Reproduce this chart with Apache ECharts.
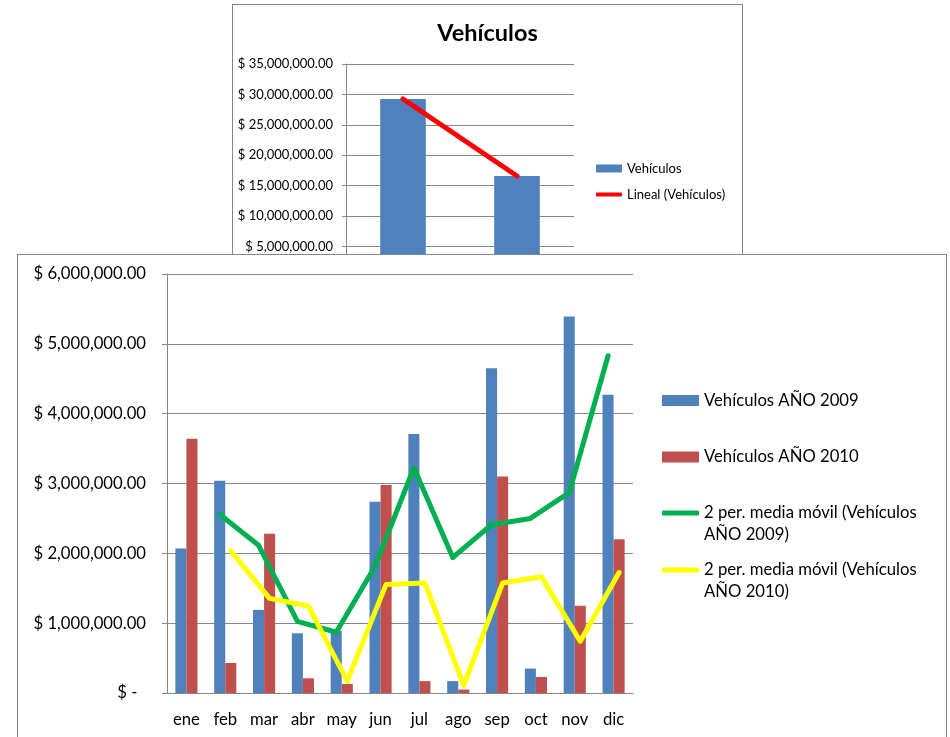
<!DOCTYPE html>
<html>
<head>
<meta charset="utf-8">
<script src="https://cdn.jsdelivr.net/npm/echarts@6/dist/echarts.min.js"></script>
<style>
  html, body { margin: 0; padding: 0; background: #fff; overflow: hidden; width: 950px; height: 737px; }
  .caja { position: absolute; box-sizing: border-box; border: 1px solid #868686; background: #fff; }
  #graficoAnual { left: 232px; top: 4px; width: 511px; height: 340px; z-index: 1; }
  #graficoMensual { left: 17px; top: 254px; width: 930px; height: 500px; z-index: 2; }
</style>
</head>
<body>
<div id="graficoAnual" class="caja"></div>
<div id="graficoMensual" class="caja"></div>
<script>
// datos
var anios = ['AÑO 2009', 'AÑO 2010'];
var totalAnual = [29250000, 16600000];
var linealAnual = [29250000, 16600000];

var meses = ['ene', 'feb', 'mar', 'abr', 'may', 'jun', 'jul', 'ago', 'sep', 'oct', 'nov', 'dic'];
var ventas2009 = [2070000, 3040000, 1190000, 855000, 890000, 2740000, 3710000, 170000, 4650000, 350000, 5390000, 4270000];
var ventas2010 = [3640000, 430000, 2280000, 210000, 130000, 2980000, 170000, 50000, 3100000, 230000, 1250000, 2200000];
var media2009 = ['-', 2555000, 2115000, 1025000, 870000, 1815000, 3225000, 1940000, 2410000, 2500000, 2870000, 4830000];
var media2010 = ['-', 2035000, 1355000, 1245000, 170000, 1555000, 1575000, 110000, 1575000, 1665000, 740000, 1725000];

var fuente = 'Lato';
var gris = '#868686';

function formatoPesos(v) {
    if (v === 0) return '$ -  ';
    return '$ ' + v.toFixed(2).replace(/\B(?=(\d{3})+(?!\d))/g, ',');
}

// grafico de arriba (total por año)
var chartAnual = echarts.init(document.getElementById('graficoAnual'), null, { renderer: 'canvas' });
var textoAnual = { fontFamily: fuente, fontSize: 13, color: '#000', lineHeight: 16 };
chartAnual.setOption({
    animation: false,
    title: {
        text: 'Vehículos',
        left: 'center',
        top: 16,
        padding: 0,
        textStyle: { fontFamily: fuente, fontWeight: 'bold', fontSize: 23.5, color: '#000' }
    },
    grid: { left: 113, top: 59, width: 228, height: 213 },
    legend: [
        { data: [{ name: 'Vehículos', icon: 'rect' }], left: 363, top: 155.5, padding: 0, itemWidth: 26, itemHeight: 8, selectedMode: false, textStyle: textoAnual },
        { data: [{ name: 'Lineal (Vehículos)', icon: 'roundRect' }], left: 363, top: 181.5, padding: 0, itemWidth: 26, itemHeight: 4, selectedMode: false, textStyle: textoAnual }
    ],
    xAxis: {
        type: 'category',
        data: anios,
        axisLine: { lineStyle: { color: gris } },
        axisTick: { length: 4, lineStyle: { color: gris } },
        axisLabel: { fontFamily: fuente, fontSize: 13, color: '#000' }
    },
    yAxis: {
        type: 'value',
        min: 0,
        max: 35000000,
        interval: 5000000,
        axisLine: { show: true, lineStyle: { color: gris } },
        axisTick: { show: true, length: 4, lineStyle: { color: gris } },
        splitLine: { lineStyle: { color: gris, width: 1 } },
        axisLabel: { formatter: formatoPesos, margin: 13, fontFamily: fuente, fontSize: 13, color: '#000' }
    },
    series: [{
        name: 'Vehículos',
        type: 'bar',
        data: totalAnual,
        barCategoryGap: '60%',
        itemStyle: { color: '#4F81BD' }
    }, {
        name: 'Lineal (Vehículos)',
        type: 'line',
        data: linealAnual,
        symbol: 'none',
        itemStyle: { color: '#FF0000' },
        lineStyle: { color: '#FF0000', width: 5, cap: 'round' }
    }]
});

// grafico de abajo (por mes)
var chartMensual = echarts.init(document.getElementById('graficoMensual'), null, { renderer: 'canvas' });

var textoLeyenda = { fontFamily: fuente, fontSize: 16.7, color: '#000', lineHeight: 22 };
// linea vacia arriba para que el icono quede a la altura del primer renglon
function partirNombre(n) { return '\n' + n.replace('(Vehículos ', '(Vehículos\n'); }
var ejeOculto = { type: 'value', min: 0, max: 6000000, show: false, splitLine: { show: false } };

chartMensual.setOption({
    animation: false,
    // las medias moviles van sobre el centro de cada barra, por eso dos grids corridos
    grid: [
        { left: 149, top: 19, width: 466, height: 419 },
        { left: 143.5, top: 19, width: 466, height: 419 },
        { left: 154.5, top: 19, width: 466, height: 419 }
    ],
    legend: [
        { data: [{ name: 'Vehículos AÑO 2009', icon: 'rect' }], left: 644, top: 134.5, padding: 0, itemWidth: 37, itemHeight: 11, selectedMode: false, textStyle: textoLeyenda },
        { data: [{ name: 'Vehículos AÑO 2010', icon: 'rect' }], left: 644, top: 191, padding: 0, itemWidth: 37, itemHeight: 11, selectedMode: false, textStyle: textoLeyenda },
        { data: [{ name: '2 per. media móvil (Vehículos AÑO 2009)', icon: 'roundRect' }], left: 644, top: 225, padding: 0, itemWidth: 37, itemHeight: 5, selectedMode: false, formatter: partirNombre, textStyle: textoLeyenda },
        { data: [{ name: '2 per. media móvil (Vehículos AÑO 2010)', icon: 'roundRect' }], left: 644, top: 282, padding: 0, itemWidth: 37, itemHeight: 5, selectedMode: false, formatter: partirNombre, textStyle: textoLeyenda }
    ],
    xAxis: [{
        gridIndex: 0,
        type: 'category',
        data: meses,
        axisLine: { lineStyle: { color: gris } },
        axisTick: { length: 5, lineStyle: { color: gris } },
        axisLabel: { interval: 0, margin: 18, fontFamily: fuente, fontSize: 16.7, color: '#000' }
    }, {
        gridIndex: 1, type: 'category', data: meses, show: false
    }, {
        gridIndex: 2, type: 'category', data: meses, show: false
    }],
    yAxis: [{
        gridIndex: 0,
        type: 'value',
        min: 0,
        max: 6000000,
        interval: 1000000,
        axisLine: { show: true, lineStyle: { color: gris } },
        axisTick: { show: true, length: 5, lineStyle: { color: gris } },
        splitLine: { lineStyle: { color: gris, width: 1 } },
        axisLabel: { formatter: formatoPesos, margin: 21, fontFamily: fuente, fontSize: 16.7, color: '#000' }
    },
    Object.assign({ gridIndex: 1 }, ejeOculto),
    Object.assign({ gridIndex: 2 }, ejeOculto)],
    series: [{
        name: 'Vehículos AÑO 2009',
        type: 'bar',
        data: ventas2009,
        barGap: '0%',
        barCategoryGap: '43%',
        itemStyle: { color: '#4F81BD' }
    }, {
        name: 'Vehículos AÑO 2010',
        type: 'bar',
        data: ventas2010,
        barGap: '0%',
        barCategoryGap: '43%',
        itemStyle: { color: '#C0504D' }
    }, {
        name: '2 per. media móvil (Vehículos AÑO 2009)',
        type: 'line',
        xAxisIndex: 1,
        yAxisIndex: 1,
        data: media2009,
        symbol: 'none',
        itemStyle: { color: '#00B050' },
        lineStyle: { color: '#00B050', width: 5, cap: 'round', join: 'round' }
    }, {
        name: '2 per. media móvil (Vehículos AÑO 2010)',
        type: 'line',
        xAxisIndex: 2,
        yAxisIndex: 2,
        data: media2010,
        symbol: 'none',
        itemStyle: { color: '#FFFF00' },
        lineStyle: { color: '#FFFF00', width: 5, cap: 'round', join: 'round' }
    }]
});
</script>
</body>
</html>
